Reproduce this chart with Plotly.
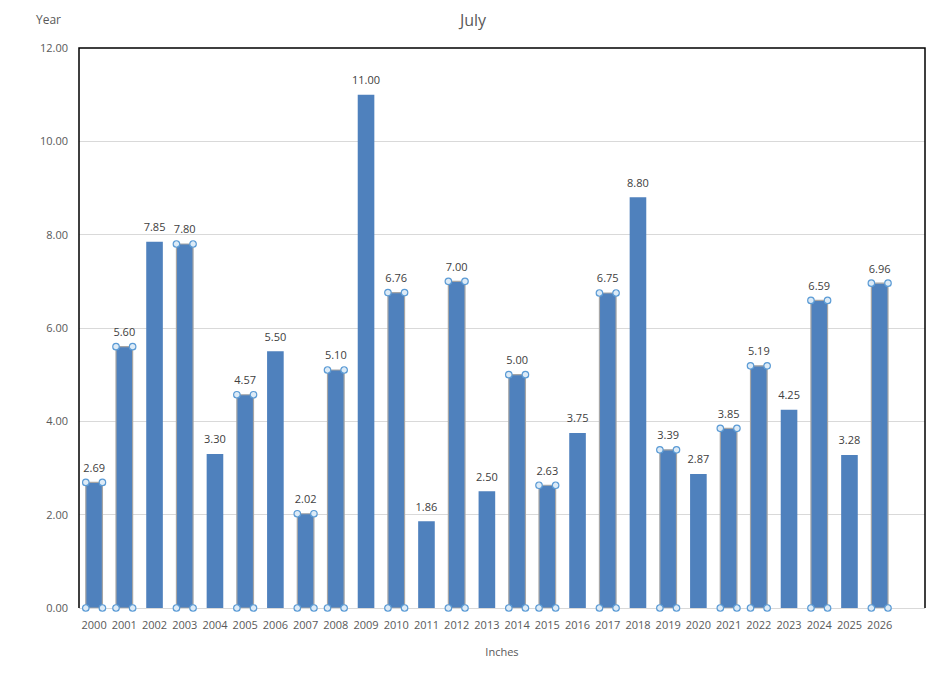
import plotly.graph_objects as go

years = [str(y) for y in range(2000, 2027)]
inches = [2.69, 5.60, 7.85, 7.80, 3.30, 4.57, 5.50, 2.02, 5.10, 11.00, 6.76, 1.86, 7.00,
          2.50, 5.00, 2.63, 3.75, 6.75, 8.80, 3.39, 2.87, 3.85, 5.19, 4.25, 6.59, 3.28, 6.96]
selected_years = ["2000", "2001", "2003", "2005", "2007", "2008", "2010", "2012", "2014",
                  "2015", "2017", "2019", "2021", "2022", "2024", "2026"]
y_ticks = [0, 2, 4, 6, 8, 10, 12]

BAR_W = 0.55
FONT = "Open Sans"
pos = list(range(len(years)))
sel = [y in selected_years for y in years]

fig = go.Figure()
fig.add_trace(go.Bar(
    x=pos, y=inches, width=BAR_W,
    marker=dict(color="#4F81BD",
                line=dict(color=["#A6A6A6" if s else "#4F81BD" for s in sel],
                          width=[1.2 if s else 0 for s in sel])),
    cliponaxis=False, hoverinfo="skip"))

# data labels
fig.add_trace(go.Scatter(
    x=pos, y=inches, mode="markers+text", cliponaxis=False, hoverinfo="skip",
    text=[f"{v:.2f}" for v in inches], textposition="top center",
    textfont=dict(size=11, color="#404040", family=FONT),
    marker=dict(size=11, opacity=0)))

hx, hy = [], []
for i, (v, s) in enumerate(zip(inches, sel)):
    if s:
        for dx in (-BAR_W / 2, BAR_W / 2):
            for yy in (0, v):
                hx.append(i + dx)
                hy.append(yy)
fig.add_trace(go.Scatter(
    x=hx, y=hy, mode="markers", cliponaxis=False, hoverinfo="skip",
    marker=dict(size=6.5, color="#DDEBF7", line=dict(color="#5B9BD5", width=1.2))))

fig.update_layout(
    width=938, height=677, showlegend=False,
    margin=dict(l=79, r=13, t=48, b=69),
    paper_bgcolor="white", plot_bgcolor="white",
    font=dict(family=FONT, color="#595959", size=11),
    title=dict(text="July", x=473 / 938, xanchor="center", y=1 - 20 / 677, yanchor="middle",
               font=dict(size=16, color="#595959", family=FONT)),
    xaxis=dict(range=[-0.5, 27.5], tickvals=pos, ticktext=years, showgrid=False,
               zeroline=False, showline=False, ticks="", automargin=False,
               ticklabelstandoff=9,
               tickfont=dict(size=11, color="#595959"),
               title=dict(text="Inches", font=dict(size=11, color="#595959"), standoff=17)),
    yaxis=dict(range=[0, 12], tickvals=y_ticks, ticktext=[f"{t:.2f}" for t in y_ticks],
               showgrid=True, gridcolor="#D9D9D9", gridwidth=1, zeroline=True,
               zerolinecolor="#D9D9D9", zerolinewidth=1, showline=False, ticks="",
               automargin=False,
               ticklabelstandoff=10, tickfont=dict(size=11, color="#595959")),
    bargap=0.45,
)
fig.add_annotation(text="Year", xref="paper", yref="paper", x=-31 / 846, y=1 + 28 / 560,
                   xanchor="center", yanchor="middle", showarrow=False,
                   font=dict(size=12, color="#595959", family=FONT))
fig.add_shape(type="path", xref="paper", yref="paper",
              path="M 0 0 L 0 1 L 1 1 L 1 0", line=dict(color="black", width=1.5), layer="above")

fig.write_html("out.html", config={"displayModeBar": False},
               post_script="document.body.style.margin='0';")
